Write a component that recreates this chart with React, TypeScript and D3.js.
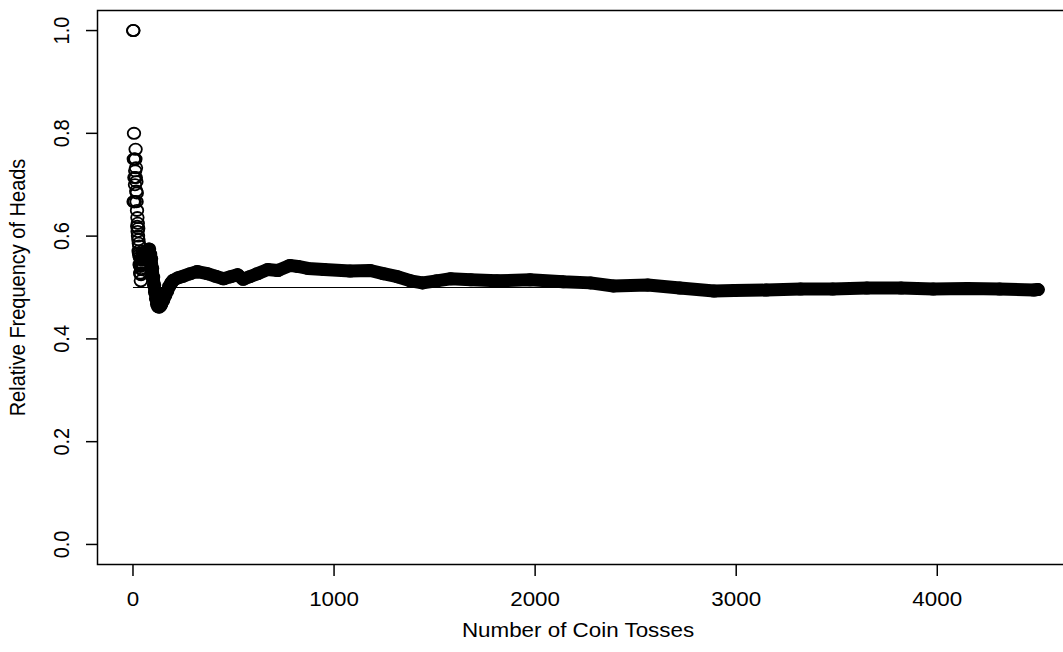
import React from 'react';
import * as d3 from 'd3';

// first tosses, where each circle can still be seen on its own
const earlyTosses = [
  1, 2, 3, 4, 5, 6, 7, 8, 9, 10, 11, 12, 13, 14, 15, 16, 17, 18, 19, 20,
  21, 22, 23, 24, 25, 26, 27, 28, 29, 30, 31, 32, 33, 34, 35, 36, 37, 38, 39, 40,
  41, 42, 43, 44, 45, 46, 47, 48, 49, 50,
];
const earlyFreq = [
  1.0, 1.0, 0.667, 0.75, 0.8, 0.667, 0.714, 0.75, 0.667, 0.7,
  0.727, 0.75, 0.769, 0.714, 0.733, 0.688, 0.706, 0.667, 0.684, 0.65,
  0.619, 0.636, 0.609, 0.625, 0.6, 0.615, 0.593, 0.571, 0.586, 0.567,
  0.581, 0.563, 0.545, 0.559, 0.543, 0.528, 0.541, 0.526, 0.513, 0.525,
  0.537, 0.548, 0.535, 0.545, 0.556, 0.543, 0.553, 0.563, 0.571, 0.56,
];

// later tosses
const bandTosses = [
  50, 55, 60, 65, 70, 75, 80, 85, 90, 95, 100, 105, 110, 115, 120, 125, 130, 135, 140,
  150, 160, 170, 180, 190, 200, 225, 250, 285, 320, 370, 410, 450, 485, 520, 548, 580,
  620, 670, 720, 780, 820, 870, 950, 1080, 1180, 1245, 1315, 1380, 1440, 1510, 1580,
  1680, 1810, 1975, 2140, 2275, 2390, 2560, 2720, 2890, 2990, 3150, 3320, 3480, 3650,
  3820, 3980, 4150, 4310, 4480, 4500,
];
const bandFreq = [
  0.56, 0.564, 0.567, 0.569, 0.571, 0.573, 0.575, 0.565, 0.556, 0.537, 0.52, 0.505, 0.491, 0.478, 0.468, 0.463, 0.462, 0.464, 0.467,
  0.475, 0.484, 0.493, 0.502, 0.509, 0.514, 0.519, 0.522, 0.527, 0.531, 0.527, 0.522, 0.517, 0.521, 0.525, 0.516, 0.521,
  0.527, 0.535, 0.533, 0.543, 0.541, 0.537, 0.535, 0.532, 0.533, 0.527, 0.521, 0.513, 0.509, 0.513, 0.517,
  0.515, 0.513, 0.515, 0.511, 0.509, 0.503, 0.505, 0.499, 0.493, 0.494, 0.495, 0.497, 0.497, 0.499,
  0.499, 0.497, 0.498, 0.497, 0.495, 0.496,
];

const xTicks = [0, 1000, 2000, 3000, 4000];
const yTicks = [0, 0.2, 0.4, 0.6, 0.8, 1.0];

const W = 1063;
const H = 652;
const FONT = '"Liberation Sans", Arial, Helvetica, sans-serif';
const SX = 1.12; // the picture is a little wider than tall

export default function App() {
  const nMax = 4500;
  const pad = 0.04 * (nMax - 1);
  const x = d3.scaleLinear().domain([1 - pad, nMax + pad]).range([97, 1074]);
  const y = d3.scaleLinear().domain([-0.04, 1.04]).range([565, 10]);

  const bandPts = bandTosses.map((t, i) => [t, bandFreq[i]] as [number, number]);
  const line = d3.line<[number, number]>().x(d => x(d[0])).y(d => y(d[1]));

  const ry = 5.6;
  const rx = ry * SX;

  return (
    <div style={{ position: 'absolute', left: 0, top: 0 }}>
      <svg width={W} height={H} style={{ display: 'block', background: '#fff' }}>
        {/* reference line */}
        <line x1={x(0)} x2={x(nMax)} y1={y(0.5)} y2={y(0.5)} stroke="#000" strokeWidth={1} />

        {/* solid band of overlapping circles */}
        <path d={line(bandPts) || ''} fill="none" stroke="#000" strokeWidth={ry * 2 + 1.8}
          strokeLinejoin="round" strokeLinecap="round" />
        {bandPts.map((d, i) => (
          <ellipse key={'b' + i} cx={x(d[0])} cy={y(d[1])} rx={rx} ry={ry}
            fill="none" stroke="#000" strokeWidth={1.8} />
        ))}
        {earlyTosses.map((t, i) => (
          <ellipse key={'e' + i} cx={x(t)} cy={y(earlyFreq[i])} rx={rx} ry={ry}
            fill="none" stroke="#000" strokeWidth={1.8} />
        ))}

        {/* frame */}
        <path d={`M1074,10.5 H97.5 V564.5 H1074`} fill="none" stroke="#000" strokeWidth={1.5} />

        {/* x axis */}
        {xTicks.map(t => (
          <g key={'x' + t}>
            <line x1={x(t)} x2={x(t)} y1={565} y2={576} stroke="#000" strokeWidth={1.5} />
            <text transform={`translate(${x(t)},606) scale(${SX},1)`} textAnchor="middle"
              fontFamily={FONT} fontSize={20}>{t}</text>
          </g>
        ))}
        <text transform={`translate(578,637) scale(${SX},1)`} textAnchor="middle"
          fontFamily={FONT} fontSize={20}>Number of Coin Tosses</text>

        {/* y axis */}
        {yTicks.map(t => (
          <g key={'y' + t}>
            <line x1={86} x2={97} y1={y(t)} y2={y(t)} stroke="#000" strokeWidth={1.5} />
            <text transform={`translate(69,${y(t)}) rotate(-90) scale(1,${SX})`} textAnchor="middle"
              fontFamily={FONT} fontSize={20}>{t.toFixed(1)}</text>
          </g>
        ))}
        <text transform={`translate(25,${(10 + 565) / 2}) rotate(-90) scale(1,${SX})`} textAnchor="middle"
          fontFamily={FONT} fontSize={20}>Relative Frequency of Heads</text>
      </svg>
    </div>
  );
}
